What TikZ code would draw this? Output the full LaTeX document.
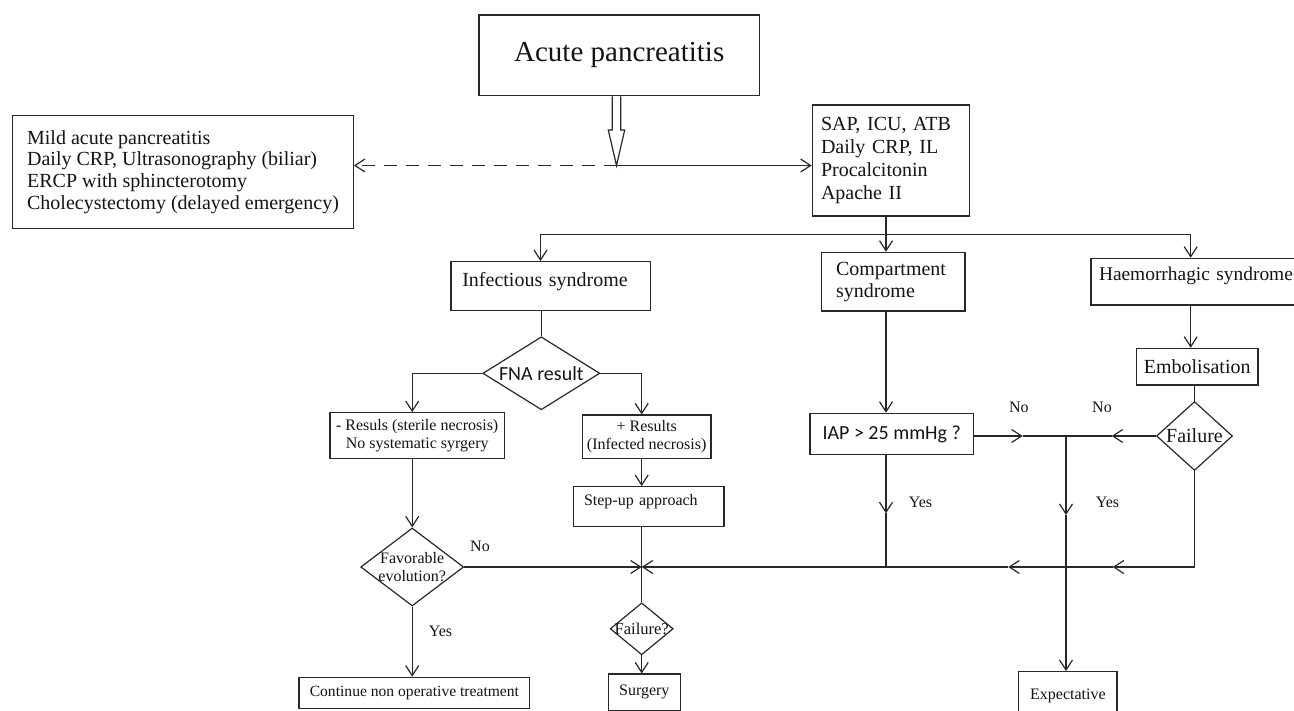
\documentclass[tikz,border=0pt]{standalone}
\usepackage{fontspec}
\setmainfont{Liberation Serif}
\newfontfamily\calib{Carlito}
\usetikzlibrary{arrows.meta,shapes.geometric,calc}
\definecolor{lc}{RGB}{40,40,40}
\definecolor{tc}{RGB}{20,20,20}
\begin{document}
\begin{tikzpicture}[x=1pt,y=-1pt,
  ln/.style={line width=1.2pt, draw=lc},
  arr/.style={ln, -{Straight Barb[length=10pt,width=13pt,line width=1.2pt]}},
  box/.style={draw=lc, line width=1.2pt, rectangle, inner sep=0pt, text=tc},
  dia/.style={draw=lc, line width=1.2pt, diamond, inner sep=0pt},
  ftw/.style={font=\fontsize{20}{22}\selectfont},
  fsx/.style={font=\fontsize{16}{18}\selectfont},
  lbl/.style={inner sep=0pt, text=tc, font=\fontsize{16}{18}\selectfont}
]
\path[use as bounding box, fill=white] (0,0) rectangle (1294,711);

% ---------- nodes ----------
\node[box, minimum width=280.3pt, minimum height=80.7pt, font=\fontsize{29}{32}\selectfont] (acute) at (619.2,55.4) {Acute pancreatitis};

\node[box, minimum width=340.6pt, minimum height=112.6pt, align=left, font=\fontsize{20}{21.6}\selectfont] (mild) at (183,172) {Mild acute pancreatitis\\Daily CRP, Ultrasonography (biliar)\\ERCP with sphincterotomy\\Cholecystectomy (delayed emergency)};

\node[box, minimum width=157pt, minimum height=111pt, text width=139.6pt, align=left, font=\fontsize{20}{22.8}\selectfont] (sap) at (890.8,160.5) {SAP, ICU, ATB\\Daily CRP, IL\\Procalcitonin\\Apache II};

\node[box, ftw, minimum width=199.3pt, minimum height=48.6pt, text width=176.8pt, align=left, text height=14pt, text depth=12.6pt] (inf) at (550.7,286) {Infectious syndrome};

\node[box, minimum width=143.3pt, minimum height=58.7pt, text width=114.6pt, align=left, font=\fontsize{20}{21.7}\selectfont] (comp) at (893.3,281.7) {Compartment\\syndrome};

\node[box, font=\fontsize{19.4}{22}\selectfont, minimum width=219pt, minimum height=46.7pt, text width=203pt, align=left, text height=14pt, text depth=15.4pt] (haem) at (1200.5,281.7) {Haemorrhagic syndrome};

\node[box, ftw, minimum width=121.7pt, minimum height=36.7pt] (embol) at (1197.2,366.7) {Embolisation};

\node[dia, minimum width=76pt, minimum height=69pt, label={[ftw, text=tc, inner sep=0pt]center:Failure}] (fail) at (1194.5,436) {};

\node[box, minimum width=163.3pt, minimum height=41.3pt, font=\calib\fontsize{20}{22}\selectfont] (iap) at (891.7,434) {IAP > 25 mmHg ?};

\node[dia, minimum width=117pt, minimum height=73pt, label={[font=\calib\fontsize{20}{22}\selectfont, text=tc, inner sep=0pt]center:FNA result}] (fna) at (541.3,373.3) {};

\node[box, minimum width=174.3pt, minimum height=45.6pt, align=center, font=\fontsize{16}{18.3}\selectfont] (neg) at (417.2,435.5) {- Resuls (sterile necrosis)\\No systematic syrgery};

\node[box, minimum width=128.7pt, minimum height=43.3pt, align=center, font=\fontsize{16}{18.3}\selectfont] (pos) at (646.7,436.7) {+ Results\\(Infected necrosis)};

\node[box, fsx, minimum width=150.7pt, minimum height=40pt, text width=129.4pt, align=left, text height=11pt, text depth=14.4pt] (step) at (648.7,506.7) {Step-up approach};

\node[dia, minimum width=103pt, minimum height=78pt, label={[align=center, fsx, text=tc, inner sep=0pt]center:{Favorable\\evolution?}}] (fav) at (412.2,567) {};

\node[dia, minimum width=63pt, minimum height=52pt, label={[font=\fontsize{16.5}{18}\selectfont, text=tc, inner sep=0pt]center:Failure?}] (failq) at (641.7,628.8) {};

\node[box, fsx, minimum width=71.7pt, minimum height=36.5pt] (surg) at (644.3,692.3) {Surgery};

\node[box, minimum width=230.8pt, minimum height=31pt, font=\fontsize{15.6}{18}\selectfont] (cont) at (414.4,692.8) {Continue non operative treatment};

\node[box, fsx, minimum width=98.3pt, minimum height=54.3pt, text height=11pt, text depth=10pt] (expt) at (1067.9,698.8) {Expectative};

% ---------- coordinates ----------
\coordinate (j) at (616.5,165.5);
\coordinate (hl) at (612.2,130);
\coordinate (hr) at (620.8,130);
\coordinate (hll) at (608.3,130);
\coordinate (hrr) at (624.7,130);
\coordinate (b0) at (540.5,234.5);
\coordinate (b1) at (886,234.5);
\coordinate (b2) at (1190.7,234.5);
\coordinate (v) at (1066,436);
\coordinate (nA) at (1022.7,436);
\coordinate (nB) at (1111.7,436);
\coordinate (vA) at (1066,515);
\coordinate (yA) at (886,513.3);
\coordinate (xj) at (641.7,567);
\coordinate (bA) at (1112.7,567);
\coordinate (bB) at (1008.3,567);

% ---------- connectors ----------
\draw[ln, fill=white, line join=miter] (hl |- acute.south) -- (hl) -- (hll) -- (j) -- (hrr) -- (hr) -- (hr |- acute.south);
\draw[arr, dash pattern=on 13pt off 9pt] (j) -- (j -| mild.east);
\draw[arr] (j) -- (j -| sap.west);

\draw[ln] (sap.south -| b1) -- (b1);
\draw[arr] (b1) -- (b0) -- (b0 |- inf.north);
\draw[arr] (b1) -- (b2) -- (b2 |- haem.north);
\draw[arr] (b1) -- (b1 |- comp.north);

\draw[ln] (fna.north |- inf.south) -- (fna.north);
\draw[arr] (fna.west) -| (fav |- neg.north);
\draw[arr] (fna.east) -| (xj |- pos.north);
\draw[arr] (fav |- neg.south) -- (fav.north);
\draw[arr] (xj |- pos.south) -- (xj |- step.north);
\draw[ln] (xj |- step.south) -- (failq.north);
\draw[arr] (failq.south) -- (failq.south |- surg.north);
\draw[arr] (fav.south) -- (fav.south |- cont.north);
\draw[arr] (fav.east) -- (xj);

\draw[arr] (b2 |- haem.south) -- (b2 |- embol.north);
\draw[ln] (fail.north |- embol.south) -- (fail.north);
\draw[arr] (b1 |- comp.south) -- (b1 |- iap.north);
\draw[arr] (iap.east |- v) -- (nA);
\draw[ln] (nA) -- (v);
\draw[arr] (fail.west) -- (nB);
\draw[ln] (nB) -- (v);
\draw[arr] (v) -- (vA);
\draw[arr] (vA) -- (v |- expt.north);
\draw[arr] (yA |- iap.south) -- (yA);
\draw[ln] (yA) -- (yA |- xj);
\draw[arr] (fail.south) |- (bA);
\draw[arr] (bA) -- (bB);
\draw[arr] (bB) -- (xj);

% ---------- labels ----------
\node[lbl] (no1) at (1018.8,407.5) {No};
\node[lbl] (no2) at (1102,407.5) {No};
\node[lbl] (yes1) at (920.5,502.5) {Yes};
\node[lbl] (yes2) at (1107.5,502) {Yes};
\node[lbl] (no3) at (480,546) {No};
\node[lbl] (yes3) at (440.5,631) {Yes};
\end{tikzpicture}
\end{document}
